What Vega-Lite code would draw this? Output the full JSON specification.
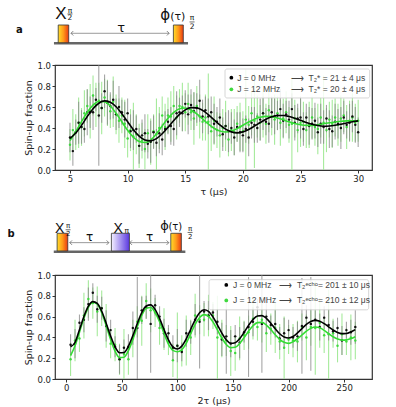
{
"$schema": "https://vega.github.io/schema/vega-lite/v6.json",
"padding": {"left": 6, "top": 4, "right": 0, "bottom": 0},
"spacing": 22,
"config": {
  "font": "DejaVu Sans",
  "view": {"stroke": "#333", "strokeWidth": 1.2},
  "axis": {"domain": false, "grid": false, "tickColor": "#333", "tickSize": 3, "labelFontSize": 8.5, "labelColor": "#222", "titleFontSize": 9.5, "titleFontWeight": "normal", "titleColor": "#222", "labelPadding": 1.5, "titlePadding": 3, "labelFlush": false}
},
"datasets": {
  "a_k": [{"x":5,"y":0.31,"e":0.14},{"x":5.25,"y":0.18,"e":0.14},{"x":5.5,"y":0.36,"e":0.12},{"x":5.75,"y":0.45,"e":0.2},{"x":6,"y":0.41,"e":0.16},{"x":6.25,"y":0.39,"e":0.13},{"x":6.5,"y":0.55,"e":0.22},{"x":6.75,"y":0.55,"e":0.15},{"x":7,"y":0.55,"e":0.17},{"x":7.25,"y":0.67,"e":0.11},{"x":7.5,"y":0.52,"e":0.48},{"x":7.75,"y":0.59,"e":0.14},{"x":8,"y":0.75,"e":0.16},{"x":8.25,"y":0.64,"e":0.21},{"x":8.5,"y":0.61,"e":0.13},{"x":8.75,"y":0.67,"e":0.18},{"x":9,"y":0.53,"e":0.15},{"x":9.25,"y":0.6,"e":0.2},{"x":9.5,"y":0.55,"e":0.12},{"x":9.75,"y":0.48,"e":0.17},{"x":10,"y":0.54,"e":0.14},{"x":10.25,"y":0.37,"e":0.16},{"x":10.5,"y":0.38,"e":0.19},{"x":10.75,"y":0.39,"e":0.13},{"x":11,"y":0.23,"e":0.17},{"x":11.25,"y":0.33,"e":0.15},{"x":11.5,"y":0.35,"e":0.18},{"x":11.75,"y":0.25,"e":0.14},{"x":12,"y":0.27,"e":0.2},{"x":12.25,"y":0.36,"e":0.16},{"x":12.5,"y":0.26,"e":0.13},{"x":12.75,"y":0.35,"e":0.19},{"x":13,"y":0.29,"e":0.15},{"x":13.25,"y":0.39,"e":0.17},{"x":13.5,"y":0.46,"e":0.12},{"x":13.75,"y":0.42,"e":0.18},{"x":14,"y":0.39,"e":0.16},{"x":14.25,"y":0.54,"e":0.21},{"x":14.5,"y":0.55,"e":0.14},{"x":14.75,"y":0.54,"e":0.17},{"x":15,"y":0.63,"e":0.13},{"x":15.25,"y":0.53,"e":0.19},{"x":15.5,"y":0.62,"e":0.15},{"x":15.75,"y":0.56,"e":0.18},{"x":16,"y":0.59,"e":0.14},{"x":16.25,"y":0.66,"e":0.2},{"x":16.5,"y":0.51,"e":0.16},{"x":16.75,"y":0.57,"e":0.13},{"x":17,"y":0.51,"e":0.17},{"x":17.25,"y":0.55,"e":0.15},{"x":17.5,"y":0.44,"e":0.19},{"x":17.75,"y":0.46,"e":0.14},{"x":18,"y":0.5,"e":0.18},{"x":18.25,"y":0.34,"e":0.16},{"x":18.5,"y":0.42,"e":0.13},{"x":18.75,"y":0.37,"e":0.2},{"x":19,"y":0.4,"e":0.15},{"x":19.25,"y":0.31,"e":0.17},{"x":19.5,"y":0.41,"e":0.14},{"x":19.75,"y":0.36,"e":0.19},{"x":20,"y":0.33,"e":0.16},{"x":20.25,"y":0.39,"e":0.13},{"x":20.5,"y":0.31,"e":0.18},{"x":20.75,"y":0.45,"e":0.15},{"x":21,"y":0.43,"e":0.17},{"x":21.25,"y":0.4,"e":0.14},{"x":21.5,"y":0.48,"e":0.2},{"x":21.75,"y":0.54,"e":0.16},{"x":22,"y":0.46,"e":0.13},{"x":22.25,"y":0.44,"e":0.18},{"x":22.5,"y":0.55,"e":0.15},{"x":22.75,"y":0.51,"e":0.17},{"x":23,"y":0.52,"e":0.14},{"x":23.25,"y":0.58,"e":0.19},{"x":23.5,"y":0.47,"e":0.16},{"x":23.75,"y":0.53,"e":0.13},{"x":24,"y":0.48,"e":0.18},{"x":24.25,"y":0.58,"e":0.15},{"x":24.5,"y":0.45,"e":0.17},{"x":24.75,"y":0.49,"e":0.14},{"x":25,"y":0.5,"e":0.2},{"x":25.25,"y":0.39,"e":0.16},{"x":25.5,"y":0.5,"e":0.13},{"x":25.75,"y":0.42,"e":0.18},{"x":26,"y":0.44,"e":0.15},{"x":26.25,"y":0.47,"e":0.17},{"x":26.5,"y":0.36,"e":0.14},{"x":26.75,"y":0.44,"e":0.19},{"x":27,"y":0.41,"e":0.16},{"x":27.25,"y":0.49,"e":0.13},{"x":27.5,"y":0.39,"e":0.18},{"x":27.75,"y":0.37,"e":0.15},{"x":28,"y":0.46,"e":0.17},{"x":28.25,"y":0.44,"e":0.14},{"x":28.5,"y":0.4,"e":0.2},{"x":28.75,"y":0.5,"e":0.16},{"x":29,"y":0.43,"e":0.13},{"x":29.25,"y":0.45,"e":0.18},{"x":29.5,"y":0.51,"e":0.15},{"x":29.75,"y":0.43,"e":0.17},{"x":30,"y":0.36,"e":0.14}],
  "a_g": [{"x":5,"y":0.24,"e":0.15},{"x":5.25,"y":0.38,"e":0.2},{"x":5.5,"y":0.36,"e":0.17},{"x":5.75,"y":0.45,"e":0.24},{"x":6,"y":0.41,"e":0.18},{"x":6.25,"y":0.54,"e":0.22},{"x":6.5,"y":0.61,"e":0.16},{"x":6.75,"y":0.56,"e":0.26},{"x":7,"y":0.71,"e":0.19},{"x":7.25,"y":0.62,"e":0.21},{"x":7.5,"y":0.66,"e":0.17},{"x":7.75,"y":0.59,"e":0.25},{"x":8,"y":0.69,"e":0.18},{"x":8.25,"y":0.64,"e":0.22},{"x":8.5,"y":0.56,"e":0.16},{"x":8.75,"y":0.65,"e":0.24},{"x":9,"y":0.53,"e":0.19},{"x":9.25,"y":0.47,"e":0.21},{"x":9.5,"y":0.52,"e":0.17},{"x":9.75,"y":0.44,"e":0.23},{"x":10,"y":0.3,"e":0.18},{"x":10.25,"y":0.38,"e":0.2},{"x":10.5,"y":0.32,"e":0.32},{"x":10.75,"y":0.34,"e":0.19},{"x":11,"y":0.23,"e":0.21},{"x":11.25,"y":0.28,"e":0.17},{"x":11.5,"y":0.2,"e":0.19},{"x":11.75,"y":0.35,"e":0.18},{"x":12,"y":0.27,"e":0.22},{"x":12.25,"y":0.37,"e":0.16},{"x":12.5,"y":0.34,"e":0.34},{"x":12.75,"y":0.4,"e":0.2},{"x":13,"y":0.52,"e":0.18},{"x":13.25,"y":0.41,"e":0.22},{"x":13.5,"y":0.52,"e":0.17},{"x":13.75,"y":0.51,"e":0.24},{"x":14,"y":0.61,"e":0.19},{"x":14.25,"y":0.5,"e":0.21},{"x":14.5,"y":0.61,"e":0.16},{"x":14.75,"y":0.6,"e":0.23},{"x":15,"y":0.55,"e":0.18},{"x":15.25,"y":0.63,"e":0.2},{"x":15.5,"y":0.55,"e":0.17},{"x":15.75,"y":0.49,"e":0.25},{"x":16,"y":0.61,"e":0.19},{"x":16.25,"y":0.51,"e":0.21},{"x":16.5,"y":0.46,"e":0.18},{"x":16.75,"y":0.5,"e":0.22},{"x":17,"y":0.46,"e":0.46},{"x":17.25,"y":0.37,"e":0.19},{"x":17.5,"y":0.47,"e":0.23},{"x":17.75,"y":0.38,"e":0.17},{"x":18,"y":0.33,"e":0.21},{"x":18.25,"y":0.4,"e":0.18},{"x":18.5,"y":0.42,"e":0.24},{"x":18.75,"y":0.29,"e":0.16},{"x":19,"y":0.38,"e":0.2},{"x":19.25,"y":0.36,"e":0.22},{"x":19.5,"y":0.44,"e":0.17},{"x":19.75,"y":0.41,"e":0.23},{"x":20,"y":0.37,"e":0.19},{"x":20.25,"y":0.48,"e":0.48},{"x":20.5,"y":0.43,"e":0.18},{"x":20.75,"y":0.54,"e":0.21},{"x":21,"y":0.47,"e":0.45},{"x":21.25,"y":0.51,"e":0.2},{"x":21.5,"y":0.45,"e":0.17},{"x":21.75,"y":0.54,"e":0.23},{"x":22,"y":0.44,"e":0.19},{"x":22.25,"y":0.57,"e":0.21},{"x":22.5,"y":0.51,"e":0.18},{"x":22.75,"y":0.48,"e":0.24},{"x":23,"y":0.54,"e":0.16},{"x":23.25,"y":0.45,"e":0.22},{"x":23.5,"y":0.49,"e":0.19},{"x":23.75,"y":0.55,"e":0.2},{"x":24,"y":0.43,"e":0.17},{"x":24.25,"y":0.44,"e":0.44},{"x":24.5,"y":0.49,"e":0.18},{"x":24.75,"y":0.38,"e":0.21},{"x":25,"y":0.45,"e":0.23},{"x":25.25,"y":0.46,"e":0.19},{"x":25.5,"y":0.38,"e":0.17},{"x":25.75,"y":0.43,"e":0.22},{"x":26,"y":0.5,"e":0.2},{"x":26.25,"y":0.41,"e":0.18},{"x":26.5,"y":0.39,"e":0.24},{"x":26.75,"y":0.5,"e":0.19},{"x":27,"y":0.45,"e":0.45},{"x":27.25,"y":0.38,"e":0.21},{"x":27.5,"y":0.48,"e":0.17},{"x":27.75,"y":0.44,"e":0.23},{"x":28,"y":0.5,"e":0.18},{"x":28.25,"y":0.43,"e":0.2},{"x":28.5,"y":0.49,"e":0.22},{"x":28.75,"y":0.52,"e":0.16},{"x":29,"y":0.41,"e":0.21},{"x":29.25,"y":0.47,"e":0.19},{"x":29.5,"y":0.5,"e":0.23},{"x":29.75,"y":0.45,"e":0.18},{"x":30,"y":0.47,"e":0.2}],
  "a_fk": [{"x":5,"y":0.3},{"x":5.5,"y":0.352},{"x":6,"y":0.425},{"x":6.5,"y":0.509},{"x":7,"y":0.584},{"x":7.5,"y":0.636},{"x":8,"y":0.658},{"x":8.5,"y":0.645},{"x":9,"y":0.602},{"x":9.5,"y":0.536},{"x":10,"y":0.459},{"x":10.5,"y":0.384},{"x":11,"y":0.323},{"x":11.5,"y":0.286},{"x":12,"y":0.278},{"x":12.5,"y":0.299},{"x":13,"y":0.345},{"x":13.5,"y":0.406},{"x":14,"y":0.471},{"x":14.5,"y":0.53},{"x":15,"y":0.573},{"x":15.5,"y":0.594},{"x":16,"y":0.592},{"x":16.5,"y":0.568},{"x":17,"y":0.527},{"x":17.5,"y":0.478},{"x":18,"y":0.429},{"x":18.5,"y":0.389},{"x":19,"y":0.363},{"x":19.5,"y":0.354},{"x":20,"y":0.363},{"x":20.5,"y":0.386},{"x":21,"y":0.418},{"x":21.5,"y":0.452},{"x":22,"y":0.484},{"x":22.5,"y":0.507},{"x":23,"y":0.519},{"x":23.5,"y":0.519},{"x":24,"y":0.51},{"x":24.5,"y":0.493},{"x":25,"y":0.473},{"x":25.5,"y":0.452},{"x":26,"y":0.435},{"x":26.5,"y":0.423},{"x":27,"y":0.417},{"x":27.5,"y":0.419},{"x":28,"y":0.426},{"x":28.5,"y":0.436},{"x":29,"y":0.448},{"x":29.5,"y":0.459},{"x":30,"y":0.468}],
  "a_fg": [{"x":5,"y":0.28},{"x":5.5,"y":0.365},{"x":6,"y":0.46},{"x":6.5,"y":0.55},{"x":7,"y":0.618},{"x":7.5,"y":0.653},{"x":8,"y":0.65},{"x":8.5,"y":0.609},{"x":9,"y":0.54},{"x":9.5,"y":0.459},{"x":10,"y":0.378},{"x":10.5,"y":0.312},{"x":11,"y":0.272},{"x":11.5,"y":0.262},{"x":12,"y":0.285},{"x":12.5,"y":0.345},{"x":13,"y":0.42},{"x":13.5,"y":0.492},{"x":14,"y":0.548},{"x":14.5,"y":0.583},{"x":15,"y":0.59},{"x":15.5,"y":0.572},{"x":16,"y":0.534},{"x":16.5,"y":0.486},{"x":17,"y":0.439},{"x":17.5,"y":0.398},{"x":18,"y":0.371},{"x":18.5,"y":0.362},{"x":19,"y":0.371},{"x":19.5,"y":0.394},{"x":20,"y":0.426},{"x":20.5,"y":0.457},{"x":21,"y":0.484},{"x":21.5,"y":0.503},{"x":22,"y":0.511},{"x":22.5,"y":0.508},{"x":23,"y":0.496},{"x":23.5,"y":0.478},{"x":24,"y":0.459},{"x":24.5,"y":0.443},{"x":25,"y":0.431},{"x":25.5,"y":0.425},{"x":26,"y":0.425},{"x":26.5,"y":0.431},{"x":27,"y":0.44},{"x":27.5,"y":0.45},{"x":28,"y":0.458},{"x":28.5,"y":0.465},{"x":29,"y":0.468},{"x":29.5,"y":0.469},{"x":30,"y":0.467}],
  "a_legbox": [{"x":18.45,"x2":31.0,"y":0.686,"y2":0.962}],
  "a_legdot": [{"x":19.0,"y":0.879,"s":"k"},{"x":19.0,"y":0.769,"s":"g"}],
  "a_legtxt": [{"x":19.5,"y":0.879,"t":"J = 0 MHz"},{"x":24.2,"y":0.879,"t":"⟶"},{"x":25.7,"y":0.879,"t":"T₂* = 21 ± 4 μs"},{"x":19.5,"y":0.769,"t":"J = 12 MHz"},{"x":24.2,"y":0.769,"t":"⟶"},{"x":25.7,"y":0.769,"t":"T₂* = 20 ± 4 μs"}],
  "a_base": [{"x":3.61,"x2":15.24,"y":1.207}],
  "a_rect": [{"x":3.98,"x2":4.89,"y":1.212,"y2":1.381},{"x":13.97,"x2":14.83,"y":1.212,"y2":1.381}],
  "a_arrow": [{"x":5.09,"x2":13.6,"y":1.302}],
  "a_head": [{"x":5.09,"y":1.302,"d":"L"},{"x":13.6,"y":1.302,"d":"R"}],
  "a_frac": [{"x":4.78,"x2":5.22,"y":1.486},{"x":15.37,"x2":15.81,"y":1.41}],
  "a_txt": [{"x":4.22,"y":1.435,"t":"X","r":"X"},{"x":13.25,"y":1.424,"t":"ϕ","r":"phi"},{"x":14.35,"y":1.433,"t":"(τ)","r":"paren"},{"x":9.43,"y":1.31,"t":"τ","r":"tau"},{"x":5.0,"y":1.498,"t":"π","r":"frac"},{"x":5.0,"y":1.424,"t":"2","r":"frac"},{"x":15.59,"y":1.424,"t":"π","r":"frac"},{"x":15.59,"y":1.343,"t":"2","r":"frac"},{"x":0.62,"y":1.305,"t":"a","r":"panel"}],
  "b_k": [{"x":4,"y":0.33,"e":0.1},{"x":8,"y":0.34,"e":0.14},{"x":12,"y":0.54,"e":0.08},{"x":16,"y":0.57,"e":0.12},{"x":20,"y":0.72,"e":0.16},{"x":24,"y":0.83,"e":0.09},{"x":28,"y":0.67,"e":0.13},{"x":32,"y":0.68,"e":0.11},{"x":36,"y":0.51,"e":0.15},{"x":40,"y":0.47,"e":0.1},{"x":44,"y":0.31,"e":0.1},{"x":48,"y":0.19,"e":0.14},{"x":52,"y":0.3,"e":0.08},{"x":56,"y":0.31,"e":0.12},{"x":60,"y":0.49,"e":0.16},{"x":64,"y":0.49,"e":0.49},{"x":68,"y":0.66,"e":0.13},{"x":72,"y":0.69,"e":0.11},{"x":76,"y":0.53,"e":0.47},{"x":80,"y":0.71,"e":0.1},{"x":84,"y":0.6,"e":0.1},{"x":88,"y":0.44,"e":0.14},{"x":92,"y":0.44,"e":0.08},{"x":96,"y":0.3,"e":0.12},{"x":100,"y":0.32,"e":0.16},{"x":104,"y":0.26,"e":0.09},{"x":108,"y":0.44,"e":0.13},{"x":112,"y":0.45,"e":0.11},{"x":116,"y":0.57,"e":0.15},{"x":120,"y":0.55,"e":0.45},{"x":124,"y":0.65,"e":0.1},{"x":128,"y":0.61,"e":0.14},{"x":132,"y":0.64,"e":0.08},{"x":136,"y":0.55,"e":0.12},{"x":140,"y":0.38,"e":0.16},{"x":144,"y":0.41,"e":0.36},{"x":148,"y":0.34,"e":0.13},{"x":152,"y":0.41,"e":0.11},{"x":156,"y":0.35,"e":0.15},{"x":160,"y":0.45,"e":0.1},{"x":164,"y":0.5,"e":0.48},{"x":168,"y":0.55,"e":0.14},{"x":172,"y":0.69,"e":0.08},{"x":176,"y":0.53,"e":0.47},{"x":180,"y":0.6,"e":0.16},{"x":184,"y":0.52,"e":0.09},{"x":188,"y":0.53,"e":0.13},{"x":192,"y":0.39,"e":0.11},{"x":196,"y":0.44,"e":0.15},{"x":200,"y":0.47,"e":0.1},{"x":204,"y":0.4,"e":0.1},{"x":208,"y":0.41,"e":0.14},{"x":212,"y":0.51,"e":0.46},{"x":216,"y":0.59,"e":0.12},{"x":220,"y":0.53,"e":0.45},{"x":224,"y":0.57,"e":0.09},{"x":228,"y":0.5,"e":0.13},{"x":232,"y":0.59,"e":0.11},{"x":236,"y":0.52,"e":0.15},{"x":240,"y":0.46,"e":0.1},{"x":244,"y":0.49,"e":0.1},{"x":248,"y":0.37,"e":0.14},{"x":252,"y":0.47,"e":0.08},{"x":256,"y":0.45,"e":0.12},{"x":260,"y":0.5,"e":0.16}],
  "b_g": [{"x":4,"y":0.19,"e":0.16},{"x":8,"y":0.37,"e":0.2},{"x":12,"y":0.39,"e":0.13},{"x":16,"y":0.61,"e":0.22},{"x":20,"y":0.77,"e":0.18},{"x":24,"y":0.73,"e":0.15},{"x":28,"y":0.65,"e":0.24},{"x":32,"y":0.68,"e":0.17},{"x":36,"y":0.51,"e":0.21},{"x":40,"y":0.34,"e":0.14},{"x":44,"y":0.33,"e":0.16},{"x":48,"y":0.19,"e":0.15},{"x":52,"y":0.24,"e":0.24},{"x":56,"y":0.19,"e":0.15},{"x":60,"y":0.39,"e":0.18},{"x":64,"y":0.55,"e":0.15},{"x":68,"y":0.56,"e":0.24},{"x":72,"y":0.75,"e":0.17},{"x":76,"y":0.66,"e":0.21},{"x":80,"y":0.64,"e":0.14},{"x":84,"y":0.49,"e":0.16},{"x":88,"y":0.48,"e":0.2},{"x":92,"y":0.36,"e":0.13},{"x":96,"y":0.18,"e":0.16},{"x":100,"y":0.32,"e":0.32},{"x":104,"y":0.27,"e":0.15},{"x":108,"y":0.37,"e":0.24},{"x":112,"y":0.4,"e":0.17},{"x":116,"y":0.61,"e":0.21},{"x":120,"y":0.57,"e":0.14},{"x":124,"y":0.57,"e":0.16},{"x":128,"y":0.61,"e":0.2},{"x":132,"y":0.61,"e":0.13},{"x":136,"y":0.4,"e":0.4},{"x":140,"y":0.39,"e":0.18},{"x":144,"y":0.37,"e":0.15},{"x":148,"y":0.27,"e":0.24},{"x":152,"y":0.25,"e":0.17},{"x":156,"y":0.39,"e":0.21},{"x":160,"y":0.42,"e":0.14},{"x":164,"y":0.45,"e":0.16},{"x":168,"y":0.58,"e":0.2},{"x":172,"y":0.5,"e":0.13},{"x":176,"y":0.57,"e":0.22},{"x":180,"y":0.44,"e":0.18},{"x":184,"y":0.48,"e":0.15},{"x":188,"y":0.49,"e":0.24},{"x":192,"y":0.36,"e":0.17},{"x":196,"y":0.3,"e":0.3},{"x":200,"y":0.38,"e":0.14},{"x":204,"y":0.37,"e":0.16},{"x":208,"y":0.36,"e":0.2},{"x":212,"y":0.5,"e":0.13},{"x":216,"y":0.4,"e":0.22},{"x":220,"y":0.5,"e":0.18},{"x":224,"y":0.49,"e":0.45},{"x":228,"y":0.54,"e":0.24},{"x":232,"y":0.42,"e":0.17},{"x":236,"y":0.43,"e":0.43},{"x":240,"y":0.44,"e":0.14},{"x":244,"y":0.32,"e":0.16},{"x":248,"y":0.43,"e":0.2},{"x":252,"y":0.36,"e":0.13},{"x":256,"y":0.4,"e":0.22},{"x":260,"y":0.37,"e":0.18}],
  "b_fk": [{"x":4,"y":0.31},{"x":8,"y":0.351},{"x":12,"y":0.474},{"x":16,"y":0.601},{"x":20,"y":0.7},{"x":24,"y":0.744},{"x":28,"y":0.727},{"x":32,"y":0.651},{"x":36,"y":0.537},{"x":40,"y":0.413},{"x":44,"y":0.309},{"x":48,"y":0.252},{"x":52,"y":0.255},{"x":56,"y":0.315},{"x":60,"y":0.417},{"x":64,"y":0.534},{"x":68,"y":0.638},{"x":72,"y":0.702},{"x":76,"y":0.713},{"x":80,"y":0.669},{"x":84,"y":0.583},{"x":88,"y":0.476},{"x":92,"y":0.377},{"x":96,"y":0.309},{"x":100,"y":0.288},{"x":104,"y":0.316},{"x":108,"y":0.386},{"x":112,"y":0.478},{"x":116,"y":0.569},{"x":120,"y":0.637},{"x":124,"y":0.666},{"x":128,"y":0.651},{"x":132,"y":0.597},{"x":136,"y":0.521},{"x":140,"y":0.441},{"x":144,"y":0.377},{"x":148,"y":0.344},{"x":152,"y":0.349},{"x":156,"y":0.387},{"x":160,"y":0.448},{"x":164,"y":0.515},{"x":168,"y":0.572},{"x":172,"y":0.605},{"x":176,"y":0.609},{"x":180,"y":0.584},{"x":184,"y":0.537},{"x":188,"y":0.483},{"x":192,"y":0.435},{"x":196,"y":0.403},{"x":200,"y":0.394},{"x":204,"y":0.409},{"x":208,"y":0.443},{"x":212,"y":0.485},{"x":216,"y":0.525},{"x":220,"y":0.553},{"x":224,"y":0.564},{"x":228,"y":0.556},{"x":232,"y":0.533},{"x":236,"y":0.502},{"x":240,"y":0.471},{"x":244,"y":0.447},{"x":248,"y":0.436},{"x":252,"y":0.438},{"x":256,"y":0.453},{"x":260,"y":0.475}],
  "b_fg": [{"x":4,"y":0.224},{"x":8,"y":0.319},{"x":12,"y":0.45},{"x":16,"y":0.585},{"x":20,"y":0.69},{"x":24,"y":0.738},{"x":28,"y":0.719},{"x":32,"y":0.637},{"x":36,"y":0.513},{"x":40,"y":0.379},{"x":44,"y":0.268},{"x":48,"y":0.207},{"x":52,"y":0.209},{"x":56,"y":0.273},{"x":60,"y":0.38},{"x":64,"y":0.504},{"x":68,"y":0.612},{"x":72,"y":0.679},{"x":76,"y":0.688},{"x":80,"y":0.641},{"x":84,"y":0.55},{"x":88,"y":0.438},{"x":92,"y":0.335},{"x":96,"y":0.275},{"x":100,"y":0.262},{"x":104,"y":0.283},{"x":108,"y":0.343},{"x":112,"y":0.436},{"x":116,"y":0.526},{"x":120,"y":0.592},{"x":124,"y":0.619},{"x":128,"y":0.603},{"x":132,"y":0.549},{"x":136,"y":0.473},{"x":140,"y":0.394},{"x":144,"y":0.332},{"x":148,"y":0.301},{"x":152,"y":0.305},{"x":156,"y":0.341},{"x":160,"y":0.398},{"x":164,"y":0.46},{"x":168,"y":0.512},{"x":172,"y":0.542},{"x":176,"y":0.544},{"x":180,"y":0.519},{"x":184,"y":0.476},{"x":188,"y":0.426},{"x":192,"y":0.382},{"x":196,"y":0.353},{"x":200,"y":0.343},{"x":204,"y":0.358},{"x":208,"y":0.387},{"x":212,"y":0.423},{"x":216,"y":0.46},{"x":220,"y":0.487},{"x":224,"y":0.5},{"x":228,"y":0.492},{"x":232,"y":0.468},{"x":236,"y":0.436},{"x":240,"y":0.406},{"x":244,"y":0.385},{"x":248,"y":0.374},{"x":252,"y":0.376},{"x":256,"y":0.388},{"x":260,"y":0.406}],
  "b_legbox": [{"x":128.5,"x2":272,"y":0.665,"y2":0.955}],
  "b_legdot": [{"x":144,"y":0.905,"s":"k"},{"x":144,"y":0.755,"s":"g"}],
  "b_legtxt": [{"x":150,"y":0.905,"t":"J = 0 MHz"},{"x":191.5,"y":0.905,"t":"⟶"},{"x":207.5,"y":0.905,"t":"T₂ᵉᶜʰᵒ= 201 ± 10 μs"},{"x":150,"y":0.755,"t":"J = 12 MHz"},{"x":191.5,"y":0.755,"t":"⟶"},{"x":207.5,"y":0.755,"t":"T₂ᵉᶜʰᵒ= 210 ± 12 μs"}],
  "b_base": [{"x":-11.1,"x2":107.2,"y":1.224}],
  "b_rect_h": [{"x":-8.1,"x2":1.5,"y":1.231,"y2":1.401},{"x":94.1,"x2":103.6,"y":1.231,"y2":1.401}],
  "b_rect_p": [{"x":40.7,"x2":56.9,"y":1.231,"y2":1.401}],
  "b_arrow": [{"x":3.3,"x2":38.4,"y":1.311},{"x":57.2,"x2":92.3,"y":1.311}],
  "b_head": [{"x":3.3,"y":1.311,"d":"L"},{"x":38.4,"y":1.311,"d":"R"},{"x":57.2,"y":1.311,"d":"L"},{"x":92.3,"y":1.311,"d":"R"}],
  "b_frac": [{"x":-0.45,"x2":4.0,"y":1.435},{"x":109.2,"x2":113.7,"y":1.409}],
  "b_txt": [{"x":-5.8,"y":1.407,"t":"X","r":"X"},{"x":46.7,"y":1.407,"t":"X","r":"X"},{"x":54.4,"y":1.407,"t":"π","r":"sub"},{"x":88.5,"y":1.428,"t":"ϕ","r":"phi"},{"x":98.2,"y":1.428,"t":"(τ)","r":"paren"},{"x":21.1,"y":1.327,"t":"τ","r":"tau"},{"x":75.0,"y":1.327,"t":"τ","r":"tau"},{"x":1.8,"y":1.449,"t":"π","r":"frac"},{"x":1.8,"y":1.375,"t":"2","r":"frac"},{"x":111.5,"y":1.423,"t":"π","r":"frac"},{"x":111.5,"y":1.343,"t":"2","r":"frac"},{"x":-49.4,"y":1.365,"t":"b","r":"panel"}]
},
"vconcat": [
{
  "width": 317, "height": 105,
  "encoding": {
    "x": {"field":"x","type":"quantitative","title":"τ (μs)","scale":{"domain":[3.7,31.2],"nice":false,"zero":false},"axis":{"values":[5,10,15,20,25,30]}},
    "y": {"field":"y","type":"quantitative","title":"Spin-up fraction","scale":{"domain":[0,1],"nice":false,"zero":false},"axis":{"values":[0,0.2,0.4,0.6,0.8,1],"format":".1f"}}
  },
  "layer": [
    {"data":{"name":"a_g"},"mark":{"type":"errorbar","color":"#9be890","opacity":0.9,"thickness":1.1},"encoding":{"yError":{"field":"e"}}},
    {"data":{"name":"a_k"},"mark":{"type":"errorbar","color":"#888888","opacity":0.75,"thickness":1.1},"encoding":{"yError":{"field":"e"}}},
    {"data":{"name":"a_g"},"mark":{"type":"point","filled":true,"color":"#3fd93f","size":6,"opacity":1}},
    {"data":{"name":"a_k"},"mark":{"type":"point","filled":true,"color":"#111111","size":6,"opacity":1}},
    {"data":{"name":"a_fg"},"mark":{"type":"line","color":"#33dd33","strokeWidth":1.6,"interpolate":"monotone"}},
    {"data":{"name":"a_fk"},"mark":{"type":"line","color":"#000000","strokeWidth":1.6,"interpolate":"monotone"}},
    {"data":{"name":"a_legbox"},"mark":{"type":"rect","fill":"#ffffff","fillOpacity":0.85,"stroke":"#cccccc","strokeWidth":0.8,"cornerRadius":2},"encoding":{"x2":{"field":"x2"},"y2":{"field":"y2"}}},
    {"data":{"name":"a_legdot"},"mark":{"type":"point","filled":true,"size":14,"opacity":1},"encoding":{"color":{"field":"s","type":"nominal","scale":{"domain":["k","g"],"range":["#000000","#3fd93f"]},"legend":null}}},
    {"data":{"name":"a_legtxt"},"mark":{"type":"text","align":"left","baseline":"middle","font":"Liberation Sans","fontSize":8.5,"color":"#444444"},"encoding":{"text":{"field":"t"}}},
    {"data":{"name":"a_base"},"mark":{"type":"rule","color":"#666666","strokeWidth":2.5},"encoding":{"x2":{"field":"x2"}}},
    {"data":{"name":"a_rect"},"mark":{"type":"rect","stroke":"#333333","strokeWidth":0.8,"fill":{"gradient":"linear","x1":0,"y1":0,"x2":1,"y2":0,"stops":[{"offset":0,"color":"#ffdd2a"},{"offset":0.5,"color":"#ff9a1a"},{"offset":1,"color":"#ea3a12"}]}},"encoding":{"x2":{"field":"x2"},"y2":{"field":"y2"}}},
    {"data":{"name":"a_arrow"},"mark":{"type":"rule","color":"#555555","strokeWidth":0.6},"encoding":{"x2":{"field":"x2"}}},
    {"data":{"name":"a_head"},"mark":{"type":"point","filled":false,"color":"#555555","strokeWidth":0.7,"size":20,"opacity":1},"encoding":{"shape":{"field":"d","type":"nominal","scale":{"domain":["L","R"],"range":["M1,-1L0,0L1,1","M-1,-1L0,0L-1,1"]},"legend":null}}},
    {"data":{"name":"a_frac"},"mark":{"type":"rule","color":"#111111","strokeWidth":0.6},"encoding":{"x2":{"field":"x2"}}},
    {"data":{"name":"a_txt"},"transform":[{"filter":"datum.r == 'X'"}],"mark":{"type":"text","font":"Liberation Sans","fontSize":17,"color":"#111111","baseline":"alphabetic"},"encoding":{"text":{"field":"t"}}},
    {"data":{"name":"a_txt"},"transform":[{"filter":"datum.r == 'phi'"}],"mark":{"type":"text","font":"DejaVu Sans","fontSize":15,"color":"#111111","baseline":"alphabetic"},"encoding":{"text":{"field":"t"}}},
    {"data":{"name":"a_txt"},"transform":[{"filter":"datum.r == 'paren'"}],"mark":{"type":"text","font":"DejaVu Sans","fontSize":11,"color":"#111111","baseline":"alphabetic"},"encoding":{"text":{"field":"t"}}},
    {"data":{"name":"a_txt"},"transform":[{"filter":"datum.r == 'tau'"}],"mark":{"type":"text","font":"DejaVu Sans","fontSize":13,"color":"#111111","baseline":"alphabetic"},"encoding":{"text":{"field":"t"}}},
    {"data":{"name":"a_txt"},"transform":[{"filter":"datum.r == 'frac'"}],"mark":{"type":"text","font":"DejaVu Sans","fontSize":7.5,"color":"#111111","baseline":"alphabetic"},"encoding":{"text":{"field":"t"}}},
    {"data":{"name":"a_txt"},"transform":[{"filter":"datum.r == 'panel'"}],"mark":{"type":"text","font":"DejaVu Sans","fontSize":10,"fontWeight":"bold","color":"#111111","baseline":"alphabetic"},"encoding":{"text":{"field":"t"}}}
  ]
},
{
  "width": 317, "height": 104,
  "encoding": {
    "x": {"field":"x","type":"quantitative","title":"2τ (μs)","scale":{"domain":[-10,275],"nice":false,"zero":false},"axis":{"values":[0,50,100,150,200,250]}},
    "y": {"field":"y","type":"quantitative","title":"Spin-up fraction","scale":{"domain":[0,1],"nice":false,"zero":false},"axis":{"values":[0,0.2,0.4,0.6,0.8,1],"format":".1f"}}
  },
  "layer": [
    {"data":{"name":"b_g"},"mark":{"type":"errorbar","color":"#9be890","opacity":0.9,"thickness":1.1},"encoding":{"yError":{"field":"e"}}},
    {"data":{"name":"b_k"},"mark":{"type":"errorbar","color":"#888888","opacity":0.75,"thickness":1.1},"encoding":{"yError":{"field":"e"}}},
    {"data":{"name":"b_g"},"mark":{"type":"point","filled":true,"color":"#3fd93f","size":6,"opacity":1}},
    {"data":{"name":"b_k"},"mark":{"type":"point","filled":true,"color":"#111111","size":6,"opacity":1}},
    {"data":{"name":"b_fg"},"mark":{"type":"line","color":"#33dd33","strokeWidth":1.6,"interpolate":"monotone"}},
    {"data":{"name":"b_fk"},"mark":{"type":"line","color":"#000000","strokeWidth":1.6,"interpolate":"monotone"}},
    {"data":{"name":"b_legbox"},"mark":{"type":"rect","fill":"#ffffff","fillOpacity":0.85,"stroke":"#cccccc","strokeWidth":0.8,"cornerRadius":2},"encoding":{"x2":{"field":"x2"},"y2":{"field":"y2"}}},
    {"data":{"name":"b_legdot"},"mark":{"type":"point","filled":true,"size":14,"opacity":1},"encoding":{"color":{"field":"s","type":"nominal","scale":{"domain":["k","g"],"range":["#000000","#3fd93f"]},"legend":null}}},
    {"data":{"name":"b_legtxt"},"mark":{"type":"text","align":"left","baseline":"middle","font":"Liberation Sans","fontSize":8.5,"color":"#444444"},"encoding":{"text":{"field":"t"}}},
    {"data":{"name":"b_base"},"mark":{"type":"rule","color":"#666666","strokeWidth":2.5},"encoding":{"x2":{"field":"x2"}}},
    {"data":{"name":"b_rect_h"},"mark":{"type":"rect","stroke":"#333333","strokeWidth":0.8,"fill":{"gradient":"linear","x1":0,"y1":0,"x2":1,"y2":0,"stops":[{"offset":0,"color":"#ffdd2a"},{"offset":0.5,"color":"#ff9a1a"},{"offset":1,"color":"#ea3a12"}]}},"encoding":{"x2":{"field":"x2"},"y2":{"field":"y2"}}},
    {"data":{"name":"b_rect_p"},"mark":{"type":"rect","stroke":"#333333","strokeWidth":0.8,"fill":{"gradient":"linear","x1":0,"y1":0,"x2":1,"y2":0,"stops":[{"offset":0,"color":"#f4f0ff"},{"offset":1,"color":"#5a38e0"}]}},"encoding":{"x2":{"field":"x2"},"y2":{"field":"y2"}}},
    {"data":{"name":"b_arrow"},"mark":{"type":"rule","color":"#555555","strokeWidth":0.6},"encoding":{"x2":{"field":"x2"}}},
    {"data":{"name":"b_head"},"mark":{"type":"point","filled":false,"color":"#555555","strokeWidth":0.7,"size":20,"opacity":1},"encoding":{"shape":{"field":"d","type":"nominal","scale":{"domain":["L","R"],"range":["M1,-1L0,0L1,1","M-1,-1L0,0L-1,1"]},"legend":null}}},
    {"data":{"name":"b_frac"},"mark":{"type":"rule","color":"#111111","strokeWidth":0.6},"encoding":{"x2":{"field":"x2"}}},
    {"data":{"name":"b_txt"},"transform":[{"filter":"datum.r == 'X'"}],"mark":{"type":"text","font":"Liberation Sans","fontSize":14,"color":"#111111","baseline":"alphabetic"},"encoding":{"text":{"field":"t"}}},
    {"data":{"name":"b_txt"},"transform":[{"filter":"datum.r == 'sub'"}],"mark":{"type":"text","font":"DejaVu Sans","fontSize":7.5,"color":"#111111","baseline":"alphabetic"},"encoding":{"text":{"field":"t"}}},
    {"data":{"name":"b_txt"},"transform":[{"filter":"datum.r == 'phi'"}],"mark":{"type":"text","font":"DejaVu Sans","fontSize":13,"color":"#111111","baseline":"alphabetic"},"encoding":{"text":{"field":"t"}}},
    {"data":{"name":"b_txt"},"transform":[{"filter":"datum.r == 'paren'"}],"mark":{"type":"text","font":"DejaVu Sans","fontSize":10,"color":"#111111","baseline":"alphabetic"},"encoding":{"text":{"field":"t"}}},
    {"data":{"name":"b_txt"},"transform":[{"filter":"datum.r == 'tau'"}],"mark":{"type":"text","font":"DejaVu Sans","fontSize":12,"color":"#111111","baseline":"alphabetic"},"encoding":{"text":{"field":"t"}}},
    {"data":{"name":"b_txt"},"transform":[{"filter":"datum.r == 'frac'"}],"mark":{"type":"text","font":"DejaVu Sans","fontSize":7,"color":"#111111","baseline":"alphabetic"},"encoding":{"text":{"field":"t"}}},
    {"data":{"name":"b_txt"},"transform":[{"filter":"datum.r == 'panel'"}],"mark":{"type":"text","font":"DejaVu Sans","fontSize":10,"fontWeight":"bold","color":"#111111","baseline":"alphabetic"},"encoding":{"text":{"field":"t"}}}
  ]
}
]
}
